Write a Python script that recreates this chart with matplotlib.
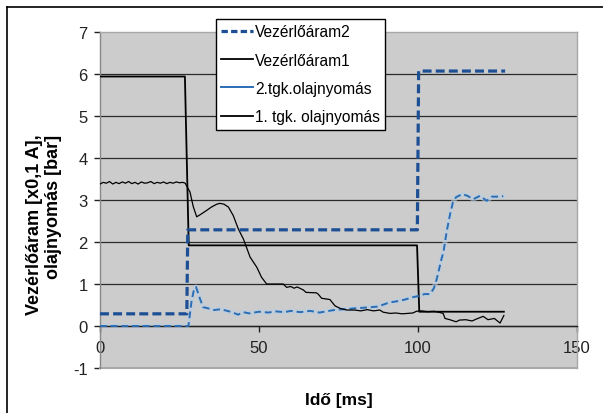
import matplotlib
matplotlib.use("Agg")
import matplotlib.pyplot as plt
from matplotlib.lines import Line2D

plt.rcParams["font.family"] = ["Liberation Sans", "DejaVu Sans"]
plt.rcParams["axes.unicode_minus"] = False

# Vezérlőáram2 (x0,1 A)
cur2_t = [0, 27.3, 27.6, 99.8, 100.2, 127.4]
cur2_v = [0.29, 0.29, 2.29, 2.29, 6.07, 6.07]

# Vezérlőáram1 (x0,1 A)
cur1_t = [0, 26.7, 27.9, 99.7, 100.4, 127]
cur1_v = [5.94, 5.94, 1.92, 1.92, 0.34, 0.34]

# 2.tgk. olajnyomás [bar]
p2_t = [0, 27.8, 28.3, 28.8, 29.5, 30.2, 31.2, 32.4, 34, 36, 38, 40, 41.5, 43.4,
        45, 47, 50, 53, 55, 58, 60, 63, 66, 69, 72, 74.4, 77, 80, 83.9, 87, 88,
        91, 94.3, 96.4, 98, 100.6, 102, 103.8, 105, 105.9, 107.4, 108, 109, 110,
        111, 112, 114, 115.5, 117.4, 119.5, 121.6, 123.2, 125, 126.8]
p2_v = [0, 0, 0.3, 0.6, 0.85, 0.93, 0.7, 0.45, 0.42, 0.38, 0.4, 0.36, 0.33, 0.27,
        0.33, 0.3, 0.34, 0.32, 0.35, 0.33, 0.36, 0.33, 0.36, 0.32, 0.36, 0.39, 0.4,
        0.42, 0.44, 0.46, 0.48, 0.56, 0.6, 0.64, 0.68, 0.72, 0.76, 0.76, 0.9, 1.12,
        1.6, 1.76, 2.24, 2.63, 2.95, 3.07, 3.14, 3.1, 3.02, 3.1, 2.98, 3.08, 3.08,
        3.09]

# 1. tgk. olajnyomás [bar]
p1_t = [0, 1, 2, 3, 4, 5, 6, 7, 8, 9, 10, 11, 12, 13, 14, 15, 16, 17, 18, 19, 20,
        21, 22, 23, 24, 25, 26, 26.8, 27.5, 28.3, 29.3, 30.4, 31.5, 33.5, 35,
        36.7, 37.7, 39, 40.4, 41.9, 43.5, 45.1, 47.2, 49.3, 50.8, 52.4, 55, 57.6,
        58.7, 60, 61, 62, 63.9, 64.8, 68, 68.6, 69.7, 72.3, 73.9, 75.5, 77.6, 80,
        82, 84, 86, 88, 89, 91.2, 93, 95, 98.4, 99.5, 101, 103, 105, 106.5, 107.9,
        108.5, 110, 112, 113, 115, 117, 118.5, 120.5, 122, 124, 125.8, 127]
p1_v = [3.38, 3.42, 3.40, 3.44, 3.38, 3.42, 3.39, 3.43, 3.40, 3.44, 3.39, 3.42,
        3.38, 3.43, 3.40, 3.41, 3.44, 3.39, 3.42, 3.40, 3.43, 3.39, 3.42, 3.40,
        3.43, 3.41, 3.42, 3.40, 3.30, 3.19, 2.85, 2.60, 2.65, 2.75, 2.83, 2.90,
        2.92, 2.90, 2.83, 2.63, 2.31, 2.07, 1.64, 1.40, 1.16, 1.00, 1.00, 1.00,
        0.92, 0.94, 0.90, 0.93, 0.86, 0.80, 0.79, 0.76, 0.66, 0.63, 0.48, 0.42,
        0.38, 0.38, 0.36, 0.39, 0.36, 0.38, 0.33, 0.30, 0.31, 0.29, 0.31, 0.35,
        0.36, 0.34, 0.35, 0.33, 0.30, 0.18, 0.15, 0.10, 0.14, 0.15, 0.12, 0.17,
        0.23, 0.15, 0.18, 0.07, 0.25]

labels = ["Vezérlőáram2", "Vezérlőáram1", "2.tgk.olajnyomás", "1. tgk. olajnyomás"]
x_ticks = [0, 50, 100, 150]
y_ticks = [-1, 0, 1, 2, 3, 4, 5, 6, 7]

W, H = 603, 414
fig = plt.figure(figsize=(W / 100, H / 100), dpi=100)
fig.patch.set_facecolor("white")
ax = fig.add_axes([100 / W, 1 - 369 / H, 477 / W, 336 / H])
ax.set_facecolor("#cccccc")

# outer frame (top and left edges visible)
fig.add_artist(Line2D([7 / W, 1], [1 - 8 / H, 1 - 8 / H], transform=fig.transFigure, color="black", lw=1.2))
fig.add_artist(Line2D([7 / W, 7 / W], [0, 1 - 8 / H], transform=fig.transFigure, color="black", lw=1.2))

blue_dark = "#1d4f95"
blue = "#2b6db4"

ax.plot(p2_t, p2_v, color="#b9cfe3", lw=3.6, alpha=0.6, solid_capstyle="round", zorder=2)
ax.plot(cur2_t, cur2_v, color=blue_dark, lw=2.3, dashes=(2.8, 1.3), zorder=4)
ax.plot(cur1_t, cur1_v, color="black", lw=1.3, zorder=3)
ax.plot(p2_t, p2_v, color=blue, lw=1.4, dashes=(3.5, 2.0), zorder=3)
ax.plot(p1_t, p1_v, color="black", lw=0.9, zorder=3)

ax.set_xlim(0, 150)
ax.set_ylim(-1, 7)
ax.set_xticks(x_ticks)
ax.set_yticks(y_ticks)
ax.tick_params(axis="both", labelsize=12, colors="#222222", length=4, width=1)
ax.tick_params(axis="x", direction="out", pad=6)
ax.tick_params(axis="y", direction="out", pad=5)

ax.spines["bottom"].set_position(("data", 0))
ax.spines["bottom"].set_color("#222222")
ax.spines["left"].set_color("#888888")
ax.spines["top"].set_color("#a8a8a8")
ax.spines["right"].set_color("#a8a8a8")
for s in ax.spines.values():
    s.set_linewidth(1.0)
ax.axhline(-1, color="#a8a8a8", lw=1.5, clip_on=False, zorder=1)

ax.yaxis.grid(True, color="#2a2a2a", lw=0.9)
ax.set_axisbelow(True)
for tick_val, gl in zip(y_ticks, ax.yaxis.get_gridlines()):
    if tick_val in (-1, 7):
        gl.set_visible(False)

handles = [
    Line2D([], [], color=blue_dark, lw=2.3, dashes=(2.0, 1.0)),
    Line2D([], [], color="black", lw=1.3),
    Line2D([], [], color=blue, lw=1.4),
    Line2D([], [], color="black", lw=1.3),
]
leg = ax.legend(handles, labels, loc="upper left",
                bbox_to_anchor=(216 / W, 1 - 20 / H), bbox_transform=fig.transFigure,
                fontsize=11.2, frameon=True, fancybox=False, framealpha=1,
                edgecolor="black", borderpad=0.35, borderaxespad=0,
                handlelength=2.0, handletextpad=0.15, labelspacing=0.85)
leg.get_frame().set_linewidth(1.0)
leg.set_zorder(10)

fig.text(44 / W, 1 - 225 / H, "Vezérlőáram [x0,1 A],\nolajnyomás [bar]",
         rotation=90, ha="center", va="center", multialignment="right",
         fontsize=13, fontweight="bold", linespacing=1.1)
fig.text(339 / W, 1 - 401 / H, "Idő [ms]", ha="center", va="center",
         fontsize=12.5, fontweight="bold")

fig.savefig("out.png", dpi=100)
